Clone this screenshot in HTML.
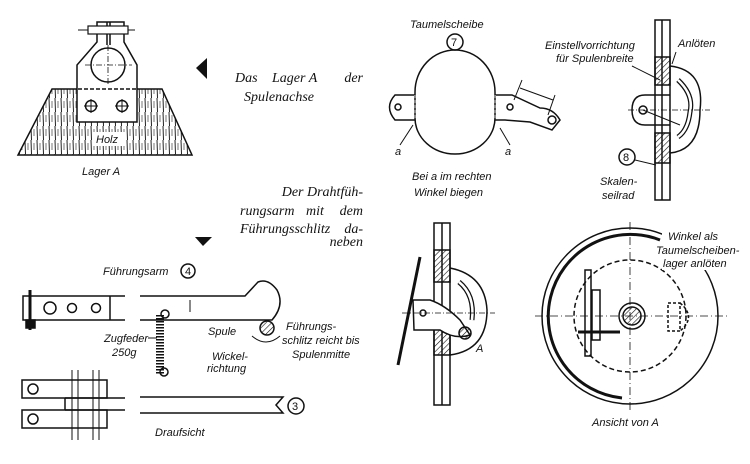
<!DOCTYPE html>
<html><head><meta charset="utf-8"><style>
html,body{margin:0;padding:0;background:#fff}
svg{display:block}
.t{font-family:"Liberation Sans",sans-serif;font-style:italic;font-size:11px;fill:#111;stroke:none}
.s{font-family:"Liberation Serif",serif;font-style:italic;font-size:14px;fill:#111;stroke:none}
</style></head><body>
<svg width="750" height="464" viewBox="0 0 750 464" xmlns="http://www.w3.org/2000/svg" stroke="#111" fill="none" stroke-width="1.5">
<defs>
<pattern id="h" width="4" height="4" patternUnits="userSpaceOnUse" patternTransform="rotate(45)"><line x1="0" y1="0" x2="0" y2="4" stroke="#111" stroke-width="1.2"/></pattern>
<pattern id="w" width="6" height="14" patternUnits="userSpaceOnUse"><line x1="1" y1="0" x2="1.5" y2="14" stroke="#222" stroke-width="1"/><line x1="4" y1="3" x2="4" y2="10" stroke="#555" stroke-width="0.8"/></pattern>
</defs>
<!-- Lager A -->
<polygon points="52,89 162,89 192,155 18,155" fill="url(#w)" stroke-width="1.5"/>
<polygon points="77,122 77,65 97,42 97,22 124,22 124,42 137,65 137,122" fill="#fff"/>
<path d="M107,22 V45 M110,22 V45"/>
<line x1="78" y1="30" x2="135" y2="30" stroke-width="1"/>
<rect x="88" y="26" width="40" height="8" fill="#fff" stroke-width="1.2"/>
<circle cx="108" cy="65" r="17" fill="#fff"/>
<line x1="85" y1="65" x2="132" y2="65" stroke-width="0.8" stroke-dasharray="6,2,1,2"/>
<line x1="108" y1="45" x2="108" y2="85" stroke-width="0.8" stroke-dasharray="6,2,1,2"/>
<line x1="78" y1="89" x2="137" y2="89" stroke-dasharray="4,2"/>
<circle cx="91" cy="106" r="5.5"/><circle cx="122" cy="106" r="5.5"/>
<path d="M84,106h14M91,99v14M115,106h14M122,99v14" stroke-width="1"/>
<rect x="92" y="132" width="34" height="14" fill="#fff" stroke="none"/>
<text class="t" x="96" y="143">Holz</text>
<text class="t" x="82" y="175">Lager A</text>
<polygon points="196,68 207,58 207,79" fill="#111" stroke="none"/>
<text class="s" x="235" y="82">Das</text><text class="s" x="272" y="82">Lager A</text><text class="s" x="363" y="82" text-anchor="end">der</text>
<text class="s" x="244" y="101">Spulenachse</text>
<text class="s" x="363" y="196" text-anchor="end">Der Drahtfüh-</text>
<text class="s" x="240" y="215">rungsarm</text><text class="s" x="306" y="215">mit</text><text class="s" x="363" y="215" text-anchor="end">dem</text>
<text class="s" x="240" y="233">Führungsschlitz</text><text class="s" x="363" y="233" text-anchor="end">da-</text>
<text class="s" x="363" y="246" text-anchor="end">neben</text>
<polygon points="195,237 212,237 203,246" fill="#111" stroke="none"/>
<!-- Führungsarm -->
<text class="t" x="103" y="275">Führungsarm</text>
<circle cx="188" cy="271" r="7"/><text class="t" x="185" y="275" style="font-style:normal">4</text>
<path d="M125,296 H23 V320 H125"/><line x1="110" y1="296" x2="110" y2="320"/>
<circle cx="50" cy="308" r="6"/><circle cx="72" cy="308" r="4.5"/><circle cx="96" cy="308" r="4.5"/>
<path d="M30,290 V330" stroke-width="3"/><rect x="26" y="320" width="9" height="8" fill="#111"/>
<path d="M140,296 H245 L258,282 Q268,278 277,290 Q285,305 272,320 H140"/>
<line x1="190" y1="300" x2="190" y2="312" stroke-width="1"/>
<path d="M160,315 v60" stroke-width="8" stroke-dasharray="1.5,1.5" />
<circle cx="165" cy="314" r="4"/><circle cx="164" cy="372" r="4"/>
<circle cx="267" cy="328" r="7" fill="url(#h)"/>
<path d="M252,336 Q266,348 280,336" stroke-width="1"/>
<text class="t" x="104" y="342">Zugfeder</text><text class="t" x="112" y="356">250g</text>
<line x1="148" y1="338" x2="157" y2="338" stroke-width="1"/>
<text class="t" x="208" y="335">Spule</text>
<text class="t" x="286" y="330">Führungs-</text><text class="t" x="282" y="344">schlitz reicht bis</text><text class="t" x="292" y="358">Spulenmitte</text>
<text class="t" x="212" y="360">Wickel-</text><text class="t" x="207" y="372">richtung</text>
<!-- Draufsicht -->
<rect x="22" y="380" width="85" height="18"/><rect x="22" y="410" width="85" height="18"/>
<path d="M65,398 V410 M125,398 H65 M125,410 H65"/>
<circle cx="33" cy="389" r="5"/><circle cx="33" cy="419" r="5"/>
<path d="M72,370 V440 M78,370 V440 M93,370 V440 M99,370 V440" stroke-width="1"/>
<path d="M140,397 H283 L276,405 L283,413 H140"/>
<circle cx="296" cy="406" r="8"/><text class="t" x="292" y="410" style="font-style:normal">3</text>
<text class="t" x="155" y="436">Draufsicht</text>
<!-- Taumelscheibe -->
<text class="t" x="410" y="28">Taumelscheibe</text>
<circle cx="455" cy="42" r="8"/><text class="t" x="451" y="46" style="font-style:normal">7</text>
<path d="M415,92 A40,42 0 0 1 495,92 V118 A40,36 0 0 1 415,118 Z"/>
<path d="M415,95 H395 Q384,107 395,120 H415"/>
<path d="M495,95 H512 L540,108 Q553,108 560,120 L552,130 L530,122 L505,120 H495"/>
<line x1="415" y1="95" x2="415" y2="120" stroke-dasharray="3,2" stroke="#fff" stroke-width="2"/>
<line x1="415" y1="95" x2="415" y2="120" stroke-dasharray="3,2" stroke-width="1"/>
<line x1="495" y1="95" x2="495" y2="120" stroke-dasharray="3,2" stroke="#fff" stroke-width="2"/>
<line x1="495" y1="95" x2="495" y2="120" stroke-dasharray="3,2" stroke-width="1"/>
<circle cx="398" cy="107" r="3"/><circle cx="510" cy="107" r="3"/><circle cx="552" cy="120" r="4"/>
<path d="M522,80 L514,100 M555,95 L548,115 M520,88 L553,100" stroke-width="1"/>
<text class="t" x="395" y="155">a</text><text class="t" x="505" y="155">a</text>
<path d="M400,145 L413,125 M510,145 L500,128" stroke-width="1"/>
<text class="t" x="412" y="180">Bei a im rechten</text><text class="t" x="414" y="196">Winkel biegen</text>
<!-- Seilrad section -->
<rect x="655" y="20" width="15" height="180"/><line x1="662" y1="20" x2="662" y2="200"/>
<rect x="655" y="57" width="15" height="28" fill="url(#h)"/><rect x="655" y="133" width="15" height="30" fill="url(#h)"/>
<path d="M670,66 Q705,70 700,110 Q700,150 670,153"/>
<path d="M678,80 Q694,95 690,112 Q688,130 678,137" stroke-width="5" stroke="#111"/>
<path d="M678,80 Q694,95 690,112 Q688,130 678,137" stroke-width="2.5" stroke="#fff"/>
<path d="M670,95 H645 Q632,95 632,110 Q632,125 645,125 H670"/>
<circle cx="643" cy="110" r="4"/><line x1="628" y1="110" x2="710" y2="110" stroke-width="0.8" stroke-dasharray="6,2,1,2"/>
<line x1="643" y1="110" x2="680" y2="125" stroke-width="1"/>
<text class="t" x="545" y="49">Einstellvorrichtung</text><text class="t" x="556" y="62">für Spulenbreite</text>
<text class="t" x="678" y="47">Anlöten</text>
<path d="M632,66 L660,80 M676,52 L672,64" stroke-width="1"/>
<circle cx="627" cy="157" r="8"/><text class="t" x="623" y="161" style="font-style:normal">8</text>
<path d="M635,160 L656,165" stroke-width="1"/>
<text class="t" x="600" y="185">Skalen-</text><text class="t" x="602" y="199">seilrad</text>
<!-- bottom side view -->
<rect x="434" y="223" width="16" height="182"/><line x1="442" y1="223" x2="442" y2="405"/>
<rect x="434" y="250" width="16" height="32" fill="url(#h)"/><rect x="434" y="320" width="16" height="35" fill="url(#h)"/>
<path d="M450,268 Q485,275 487,310 Q487,350 450,355"/>
<path d="M459,282 Q475,295 472,320" stroke-width="5"/><path d="M459,282 Q475,295 472,320" stroke-width="2.5" stroke="#fff"/>
<line x1="420" y1="257" x2="398" y2="365" stroke-width="3"/>
<path d="M413,300 H430 Q445,305 460,320 L470,335 Q455,340 440,330 H414 Z" fill="#fff"/>
<circle cx="423" cy="313" r="3"/><circle cx="465" cy="333" r="6" fill="url(#h)"/>
<line x1="402" y1="313" x2="495" y2="313" stroke-width="0.8" stroke-dasharray="6,2,1,2"/>
<text class="t" x="476" y="352">A</text>
<!-- Ansicht von A -->
<circle cx="630" cy="316" r="88"/>
<path d="M660,240 A82,82 0 1 0 622,398" stroke-width="3"/>
<circle cx="630" cy="316" r="56" stroke-dasharray="5,3"/>
<circle cx="632" cy="316" r="13"/><circle cx="632" cy="316" r="9" fill="url(#h)"/>
<line x1="535" y1="316" x2="728" y2="316" stroke-width="0.8" stroke-dasharray="8,3,1,3"/>
<line x1="630" y1="222" x2="630" y2="412" stroke-width="0.8" stroke-dasharray="8,3,1,3"/>
<rect x="585" y="270" width="6" height="86"/><rect x="592" y="290" width="8" height="50"/>
<path d="M578,332 H620" stroke-width="3"/>
<rect x="668" y="303" width="12" height="28" stroke-dasharray="3,2"/>
<path d="M680,303 Q697,317 680,331" stroke-dasharray="3,2"/>
<rect x="662" y="230" width="84" height="40" fill="#fff" stroke="none"/>
<text class="t" x="668" y="240">Winkel als</text><text class="t" x="656" y="254">Taumelscheiben-</text><text class="t" x="663" y="267">lager anlöten</text>
<text class="t" x="592" y="426">Ansicht von A</text>
</svg>
</body></html>
